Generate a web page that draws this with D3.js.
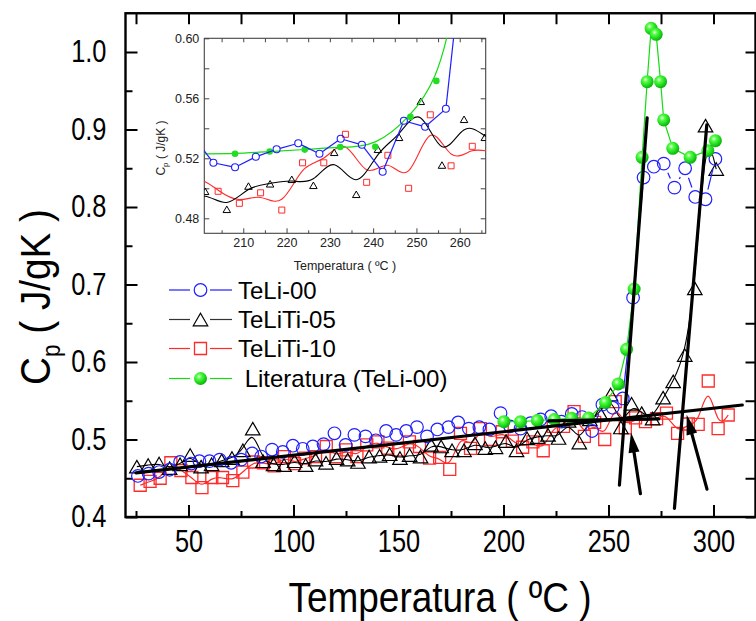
<!DOCTYPE html>
<html><head><meta charset="utf-8">
<script src="https://cdn.jsdelivr.net/npm/d3@7"></script>
<style>body{margin:0;background:#fff} svg text{font-family:"Liberation Sans",Arial,sans-serif}</style>
</head><body><svg id="c" width="756" height="621"></svg>
<script>
// ---------------- data ----------------
const tempTeLi00 = [25.9,31,36,41,46,51.3,55.2,60,64.8,70.3,75.1,80.3,84.6,89.8,94.9,99.7,104.4,109.2,114.3,119.5,124.8,129,134.3,139.2,144.1,148.9,153.7,158.8,163.6,168.5,173.8,178.4,183.5,188.5,193.3,198.6,203.1,208.1,212.9,217.7,222.7,227.6,232.5,237.4,242.2,247.1,252,256.8,261.7,266.7,271.6,276.3,281.4,286.5,291.3,296.2,300.9];
const cpTeLi00 = [0.453,0.456,0.458,0.461,0.471,0.469,0.472,0.472,0.474,0.470,0.474,0.482,0.478,0.487,0.484,0.492,0.488,0.491,0.494,0.508,0.493,0.506,0.504,0.499,0.511,0.506,0.511,0.516,0.504,0.513,0.516,0.522,0.514,0.516,0.513,0.534,0.517,0.514,0.521,0.526,0.530,0.523,0.533,0.529,0.511,0.545,0.541,0.553,0.683,0.838,0.852,0.856,0.825,0.850,0.813,0.810,0.862];
const tempTeLiTi05 = [25.4,30.8,36,41,46,50.8,56,61,65.8,70.7,75.9,80.6,85.5,90.5,95.5,100.5,105.8,110.5,115.5,120.5,125.8,130.7,136,141,145.8,150.7,155.3,160.5,165.5,170.3,175.5,181.2,186.4,191.3,196.2,201.2,206.2,211.2,216.2,221.2,226.2,231,236.1,241.1,246,251,255.9,261,265.8,271,276,280.8,286.3,291.1,296.2,301.3];
const cpTeLiTi05 = [0.465,0.467,0.469,0.463,0.468,0.480,0.465,0.468,0.473,0.476,0.486,0.514,0.472,0.468,0.467,0.472,0.467,0.474,0.470,0.476,0.474,0.471,0.478,0.479,0.481,0.476,0.480,0.478,0.493,0.491,0.486,0.486,0.495,0.489,0.490,0.498,0.486,0.5015,0.503,0.506,0.502,0.524,0.496,0.526,0.534,0.558,0.5155,0.546,0.534,0.527,0.554,0.575,0.609,0.695,0.905,0.849];
const tempTeLiTi10 = [27,31.7,36.5,41.6,46.4,51.6,56.4,61.1,66.2,71.1,75.9,81,85.7,90.8,95.7,100.5,105.5,110.5,115.6,120.3,125.1,130.2,134.9,140.2,144.9,150,155.2,160,164.8,169.6,174.4,179.5,184.3,189,193.8,199.4,204.2,209.1,214,218.9,223.7,228.6,233.6,238.5,243.4,248.2,253.2,258,262.9,267.6,272.9,277.6,282.9,288,292.7,297.5,302.2,307];
const cpTeLiTi10 = [0.441,0.446,0.450,0.470,0.460,0.451,0.438,0.451,0.451,0.447,0.458,0.471,0.470,0.466,0.478,0.469,0.476,0.478,0.491,0.478,0.4865,0.478,0.493,0.497,0.489,0.4865,0.497,0.491,0.476,0.477,0.4615,0.508,0.4886,0.514,0.500,0.510,0.498,0.490,0.497,0.4855,0.517,0.517,0.536,0.504,0.522,0.500,0.549,0.515,0.528,0.523,0.527,0.534,0.508,0.520,0.5195,0.5755,0.514,0.5316];
const tempLiteratura = [200.2,208.1,216.1,224.2,232.4,240.5,248.6,254.6,258.6,262.2,266,268.4,270.3,272.7,274.8,276.3,280.6,288.9,297.3,300.9];
const cpLiteratura = [0.523,0.523,0.5245,0.5258,0.5275,0.5277,0.5476,0.5716,0.6163,0.6942,0.8641,0.9617,1.0306,1.0228,0.9617,0.9123,0.8757,0.8641,0.8727,0.8856];

const seriesNames = ["TeLi-00","TeLiTi-05","TeLiTi-10"," Literatura (TeLi-00)"];

// straight construction lines (data coordinates)
const fitX1 = [25, 221.6, 255.2, 281.4];
const fitY1 = [0.457, 0.524, 0.441, 0.411];
const fitX2 = [313.7, 273.9, 268.4, 296.8];
const fitY2 = [0.5445, 0.5265, 0.915, 0.906];
// arrows (tail -> tip)
const arrowTailX = [265.2, 296.9];
const arrowTailY = [0.430, 0.436];
const arrowTipX = [260.7, 287.2];
const arrowTipY = [0.509, 0.532];

// ticks
const xMajor = [50,100,150,200,250,300];
const xMajorLabels = ["50","100","150","200","250","300"];
const xMinor = [25,75,125,175,225,275];
const yMajor = [0.4,0.5,0.6,0.7,0.8,0.9,1.0];
const yMajorLabels = ["0.4","0.5","0.6","0.7","0.8","0.9","1.0"];
const yMinor = [0.45,0.55,0.65,0.75,0.85,0.95];
const inXMajor = [210,220,230,240,250,260];
const inXMinor = [205,215,225,235,245,255,265];
const inYMajor = [0.48,0.52,0.56,0.60];
const inYMajorLabels = ["0.48","0.52","0.56","0.60"];
const inYMinor = [0.50,0.54,0.58];

// ---------------- setup ----------------
const svg = d3.select("#c");
const FONT = '"Liberation Sans", Arial, sans-serif';
const M = {l:125.5, r:755.5, t:13.25, b:517};
const x = d3.scaleLinear().domain([20,320]).range([M.l, M.r]);
const y = d3.scaleLinear().domain([0.4,1.05]).range([M.b, M.t]);

const BLUE = "#1f1fff", BLACK = "#000", RED = "#ff2a2a", GREEN = "#11dd11";
const SX = 0.82; // horizontal condensation of the big labels

const defs = svg.append("defs");
const rg = defs.append("radialGradient").attr("id","sph").attr("cx","38%").attr("cy","35%").attr("r","65%");
rg.append("stop").attr("offset","0%").attr("stop-color","#f2fff0");
rg.append("stop").attr("offset","28%").attr("stop-color","#55ff44");
rg.append("stop").attr("offset","75%").attr("stop-color","#19d419");
rg.append("stop").attr("offset","100%").attr("stop-color","#0fae0f");

function triPath(cx, cy, s){ const h = s*0.866; return `M${cx},${cy-h/2}L${cx+s/2},${cy+h/2}L${cx-s/2},${cy+h/2}Z`; }
function sqPath(cx, cy, s){ return `M${cx-s/2},${cy-s/2}h${s}v${s}h${-s}Z`; }

function gapSegments(xs, ys, sx, sy, gap){
  const segs = [];
  for (let i=0;i<xs.length-1;i++){
    const x1=sx(xs[i]), y1=sy(ys[i]), x2=sx(xs[i+1]), y2=sy(ys[i+1]);
    const d = Math.hypot(x2-x1,y2-y1);
    if (d <= 2*gap+1) continue;
    const ux=(x2-x1)/d, uy=(y2-y1)/d;
    segs.push([x1+ux*gap, y1+uy*gap, x2-ux*gap, y2-uy*gap]);
  }
  return segs;
}

// ---------------- main plot ----------------
const main = svg.append("g");

function styleAxis(g, fs){
  g.attr("font-family", FONT).attr("font-size", fs);
  g.selectAll(".domain").remove();
  g.selectAll(".tick line").attr("stroke","#000").attr("stroke-width",2);
  g.selectAll(".tick text").attr("fill","#000");
  return g;
}
const ax = styleAxis(main.append("g").attr("transform",`translate(0,${M.b})`)
  .call(d3.axisBottom(x).tickValues(xMajor).tickFormat((d,i)=>xMajorLabels[i]).tickSize(-12).tickPadding(13).tickSizeOuter(0)), 31);
ax.selectAll(".tick text").attr("transform",`scale(${SX},1)`);
styleAxis(main.append("g").attr("transform",`translate(0,${M.b})`)
  .call(d3.axisBottom(x).tickValues(xMinor).tickFormat("").tickSize(-6).tickSizeOuter(0)), 10);
styleAxis(main.append("g").attr("transform",`translate(0,${M.t})`)
  .call(d3.axisTop(x).tickValues(xMajor).tickFormat("").tickSize(-11).tickSizeOuter(0)), 10);
styleAxis(main.append("g").attr("transform",`translate(0,${M.t})`)
  .call(d3.axisTop(x).tickValues(xMinor).tickFormat("").tickSize(-11).tickSizeOuter(0)), 10);
const ay = styleAxis(main.append("g").attr("transform",`translate(${M.l},0)`)
  .call(d3.axisLeft(y).tickValues(yMajor).tickFormat((d,i)=>yMajorLabels[i]).tickSize(-12).tickPadding(19).tickSizeOuter(0)), 31);
ay.selectAll(".tick text").attr("x", -19/SX).attr("transform",`scale(${SX},1)`);
styleAxis(main.append("g").attr("transform",`translate(${M.l},0)`)
  .call(d3.axisLeft(y).tickValues(yMinor).tickFormat("").tickSize(-7).tickSizeOuter(0)), 10);
styleAxis(main.append("g").attr("transform",`translate(${M.r},0)`)
  .call(d3.axisRight(y).tickValues(yMajor.concat(yMinor)).tickFormat("").tickSize(-10).tickSizeOuter(0)), 10);

main.append("rect").attr("x",M.l).attr("y",M.t).attr("width",M.r-M.l).attr("height",M.b-M.t)
  .attr("fill","none").attr("stroke","#000").attr("stroke-width",2.4);

// axis titles
main.append("text").attr("transform","translate(440,612) scale(0.86,1)").attr("text-anchor","middle")
  .attr("font-size",43).attr("fill","#000").text("Temperatura ( ºC )");
const yt = main.append("text").attr("transform","translate(50,297) rotate(-90) scale(0.9,1)").attr("text-anchor","middle")
  .attr("font-size",43).attr("fill","#000");
yt.append("tspan").text("C");
yt.append("tspan").attr("font-size",25).attr("dy",10).text("p");
yt.append("tspan").attr("dy",-10).text(" ( J/gK )");

const basis = d3.line().curve(d3.curveBasis);
// TeLiTi-10 (red)
main.append("path").attr("d", basis(tempTeLiTi10.map((t,i)=>[x(t), y(cpTeLiTi10[i])])))
  .attr("fill","none").attr("stroke",RED).attr("stroke-width",1.2);
main.append("g").selectAll("path").data(tempTeLiTi10).join("path")
  .attr("d",(t,i)=>sqPath(x(t), y(cpTeLiTi10[i]), 12)).attr("fill","none").attr("stroke",RED).attr("stroke-width",1.3);

// TeLiTi-05 (black)
main.append("path").attr("d", basis(tempTeLiTi05.map((t,i)=>[x(t), y(cpTeLiTi05[i])])))
  .attr("fill","none").attr("stroke",BLACK).attr("stroke-width",1.1);
main.append("g").selectAll("path").data(tempTeLiTi05).join("path")
  .attr("d",(t,i)=>triPath(x(t), y(cpTeLiTi05[i]), 14.5)).attr("fill","none").attr("stroke",BLACK).attr("stroke-width",1.2);

// TeLi-00 (blue)
main.append("g").selectAll("line").data(gapSegments(tempTeLi00, cpTeLi00, x, y, 10)).join("line")
  .attr("x1",d=>d[0]).attr("y1",d=>d[1]).attr("x2",d=>d[2]).attr("y2",d=>d[3])
  .attr("stroke",BLUE).attr("stroke-width",1.2);
main.append("g").selectAll("circle").data(tempTeLi00).join("circle")
  .attr("cx",t=>x(t)).attr("cy",(t,i)=>y(cpTeLi00[i])).attr("r",6.3)
  .attr("fill","none").attr("stroke",BLUE).attr("stroke-width",1.2);

// Literatura (green)
main.append("path").attr("d", d3.line()(tempLiteratura.map((t,i)=>[x(t), y(cpLiteratura[i])])))
  .attr("fill","none").attr("stroke",GREEN).attr("stroke-width",1.2);
main.append("g").selectAll("circle").data(tempLiteratura).join("circle")
  .attr("cx",t=>x(t)).attr("cy",(t,i)=>y(cpLiteratura[i])).attr("r",6.5)
  .attr("fill","url(#sph)");

// construction lines
main.append("g").selectAll("line").data(fitX1).join("line")
  .attr("x1",(d,i)=>x(fitX1[i])).attr("y1",(d,i)=>y(fitY1[i]))
  .attr("x2",(d,i)=>x(fitX2[i])).attr("y2",(d,i)=>y(fitY2[i]))
  .attr("stroke","#000").attr("stroke-width",3.2).attr("stroke-linecap","round");
// arrows
arrowTailX.forEach((tx,i)=>{
  const x0=x(tx), y0=y(arrowTailY[i]), x1=x(arrowTipX[i]), y1=y(arrowTipY[i]);
  const d=Math.hypot(x1-x0,y1-y0), ux=(x1-x0)/d, uy=(y1-y0)/d;
  const hl=20, hw=5.5;
  const bx=x1-ux*hl, by=y1-uy*hl;
  main.append("line").attr("x1",x0).attr("y1",y0).attr("x2",bx+ux*2).attr("y2",by+uy*2)
    .attr("stroke","#000").attr("stroke-width",3.2).attr("stroke-linecap","round");
  main.append("path").attr("d",`M${x1},${y1}L${bx-uy*hw},${by+ux*hw}L${bx+uy*hw},${by-ux*hw}Z`).attr("fill","#000");
});

// legend
const legY = [290, 319.5, 348.5, 378.5];
const leg = main.append("g").attr("font-size",24).attr("fill","#000");
legY.forEach((ly,i)=>{
  const col = [BLUE,"#333",RED,GREEN][i];
  leg.append("line").attr("x1",169).attr("x2",190).attr("y1",ly).attr("y2",ly).attr("stroke",col).attr("stroke-width",1.2);
  leg.append("line").attr("x1",210).attr("x2",232).attr("y1",ly).attr("y2",ly).attr("stroke",col).attr("stroke-width",1.2);
  if(i===0) leg.append("circle").attr("cx",200.5).attr("cy",ly).attr("r",6.3).attr("fill","none").attr("stroke",BLUE).attr("stroke-width",1.2);
  if(i===1) leg.append("path").attr("d",triPath(200.5,ly,14.5)).attr("fill","none").attr("stroke","#000").attr("stroke-width",1.2);
  if(i===2) leg.append("path").attr("d",sqPath(200.5,ly,12)).attr("fill","none").attr("stroke",RED).attr("stroke-width",1.3);
  if(i===3) leg.append("circle").attr("cx",200.5).attr("cy",ly).attr("r",6.5).attr("fill","url(#sph)");
  leg.append("text").attr("x",238).attr("y",ly+8.5).attr("xml:space","preserve").style("white-space","pre").text(seriesNames[i]);
});

// ---------------- inset ----------------
const I = {l:204.3, r:485.7, t:38.3, b:233.3};
const ix = d3.scaleLinear().domain([201,266]).range([I.l, I.r]);
const iy = d3.scaleLinear().domain([0.47,0.60]).range([I.b, I.t]);
const ins = svg.append("g");
ins.append("rect").attr("x",I.l).attr("y",I.t).attr("width",I.r-I.l).attr("height",I.b-I.t).attr("fill","#fff");
defs.append("clipPath").attr("id","iclip").append("rect").attr("x",I.l).attr("y",I.t).attr("width",I.r-I.l).attr("height",I.b-I.t);

function styleIn(g){
  g.attr("font-family",FONT).attr("font-size",12.5);
  g.selectAll(".domain").remove();
  g.selectAll(".tick line").attr("stroke","#444").attr("stroke-width",1);
  g.selectAll(".tick text").attr("fill","#222");
}
styleIn(ins.append("g").attr("transform",`translate(0,${I.b})`)
  .call(d3.axisBottom(ix).tickValues(inXMajor).tickFormat(d3.format("d")).tickSize(-5).tickPadding(5).tickSizeOuter(0)));
styleIn(ins.append("g").attr("transform",`translate(0,${I.b})`)
  .call(d3.axisBottom(ix).tickValues(inXMinor).tickFormat("").tickSize(-3).tickSizeOuter(0)));
styleIn(ins.append("g").attr("transform",`translate(0,${I.t})`)
  .call(d3.axisTop(ix).tickValues(inXMajor.concat(inXMinor)).tickFormat("").tickSize(-4).tickSizeOuter(0)));
styleIn(ins.append("g").attr("transform",`translate(${I.l},0)`)
  .call(d3.axisLeft(iy).tickValues(inYMajor).tickFormat((d,i)=>inYMajorLabels[i]).tickSize(-5).tickPadding(5).tickSizeOuter(0)));
styleIn(ins.append("g").attr("transform",`translate(${I.l},0)`)
  .call(d3.axisLeft(iy).tickValues(inYMinor).tickFormat("").tickSize(-5).tickSizeOuter(0)));
styleIn(ins.append("g").attr("transform",`translate(${I.r},0)`)
  .call(d3.axisRight(iy).tickValues(inYMajor.concat(inYMinor)).tickFormat("").tickSize(-5).tickSizeOuter(0)));
ins.append("rect").attr("x",I.l).attr("y",I.t).attr("width",I.r-I.l).attr("height",I.b-I.t)
  .attr("fill","none").attr("stroke","#444").attr("stroke-width",1.1);

ins.append("text").attr("x",(I.l+I.r)/2).attr("y",270).attr("text-anchor","middle").attr("font-size",12.5).attr("fill","#222")
  .attr("xml:space","preserve").text("Temperatura ( ºC )");
const iyt = ins.append("text").attr("transform","translate(165,148) rotate(-90)").attr("text-anchor","middle").attr("font-size",12).attr("fill","#222");
iyt.append("tspan").text("C");
iyt.append("tspan").attr("font-size",8).attr("dy",3).text("p");
iyt.append("tspan").attr("dy",-3).attr("xml:space","preserve").text(" ( J/gK )");

const ic = ins.append("g").attr("clip-path","url(#iclip)");
ic.append("path").attr("d", basis(tempTeLiTi10.map((t,i)=>[ix(t), iy(cpTeLiTi10[i])])))
  .attr("fill","none").attr("stroke",RED).attr("stroke-width",1.1);
ic.append("g").selectAll("path").data(tempTeLiTi10).join("path")
  .attr("d",(t,i)=>sqPath(ix(t), iy(cpTeLiTi10[i]), 6)).attr("fill","none").attr("stroke",RED).attr("stroke-width",1);
ic.append("path").attr("d", basis(tempTeLiTi05.map((t,i)=>[ix(t), iy(cpTeLiTi05[i])])))
  .attr("fill","none").attr("stroke",BLACK).attr("stroke-width",1.1);
ic.append("g").selectAll("path").data(tempTeLiTi05).join("path")
  .attr("d",(t,i)=>triPath(ix(t), iy(cpTeLiTi05[i]), 7.5)).attr("fill","none").attr("stroke",BLACK).attr("stroke-width",1);
ic.append("path").attr("d", basis(tempLiteratura.map((t,i)=>[ix(t), iy(cpLiteratura[i])])))
  .attr("fill","none").attr("stroke",GREEN).attr("stroke-width",1.2);
ic.append("g").selectAll("circle").data(tempLiteratura).join("circle")
  .attr("cx",t=>ix(t)).attr("cy",(t,i)=>iy(cpLiteratura[i])).attr("r",3.3).attr("fill","#22dd22");
ic.append("g").selectAll("line").data(gapSegments(tempTeLi00, cpTeLi00, ix, iy, 3.5)).join("line")
  .attr("x1",d=>d[0]).attr("y1",d=>d[1]).attr("x2",d=>d[2]).attr("y2",d=>d[3])
  .attr("stroke",BLUE).attr("stroke-width",1.2);
ic.append("g").selectAll("circle").data(tempTeLi00).join("circle")
  .attr("cx",t=>ix(t)).attr("cy",(t,i)=>iy(cpTeLi00[i])).attr("r",3.5)
  .attr("fill","none").attr("stroke",BLUE).attr("stroke-width",1.1);
</script></body></html>
